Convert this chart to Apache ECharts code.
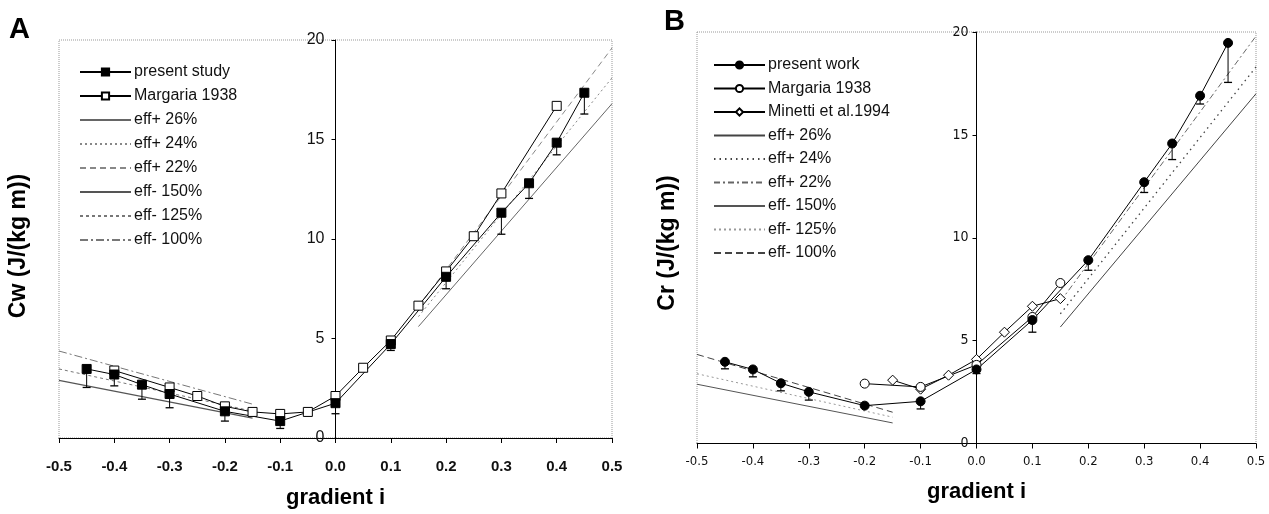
<!DOCTYPE html>
<html><head><meta charset="utf-8">
<script src="https://cdn.jsdelivr.net/npm/echarts@6/dist/echarts.min.js"></script>
<style>html,body{margin:0;padding:0;background:#fff}#c{width:1269px;height:514px}</style>
</head><body><div id="c"></div>
<script>
const NARROW = '"Liberation Sans Narrow","Arial Narrow","DejaVu Sans Condensed",sans-serif';
const SANS = '"Liberation Sans",Arial,sans-serif';

// ---------- Panel A (walking, Cw) ----------
const aPresentX = [-0.45,-0.4,-0.35,-0.3,-0.2,-0.1,0,0.1,0.2,0.3,0.35,0.4,0.45];
const aPresentY = [3.47,3.19,2.68,2.21,1.34,0.85,1.75,4.72,8.1,11.32,12.8,14.84,17.35];
const aPresentLow = [2.54,2.62,1.95,1.52,0.85,0.48,1.22,4.4,7.5,10.24,12.04,14.23,16.28];
const aMargX = [-0.4,-0.3,-0.25,-0.2,-0.15,-0.1,-0.05,0,0.05,0.1,0.15,0.2,0.25,0.3,0.4];
const aMargY = [3.39,2.54,2.11,1.59,1.31,1.21,1.31,2.11,3.53,4.9,6.65,8.37,10.14,12.29,16.69];
const aEffPosX = [0.15,0.5];
const aEff26Y = [5.6,16.8];
const aEff24Y = [6.1,18.1];
const aEff22Y = [6.6,19.6];
const aEffNegX = [-0.5,-0.15];
const aEff150Y = [2.9,1.0];
const aEff125Y = [3.47,1.35];
const aEff100Y = [4.37,1.7];

// ---------- Panel B (running, Cr) ----------
const bPresentX = [-0.45,-0.4,-0.35,-0.3,-0.2,-0.1,0,0.1,0.2,0.3,0.35,0.4,0.45];
const bPresentY = [3.97,3.6,2.93,2.51,1.84,2.05,3.6,6.0,8.91,12.7,14.58,16.9,19.47];
const bPresentLow = [3.63,3.24,2.56,2.11,1.84,1.68,3.4,5.41,8.42,12.2,13.8,16.5,17.55];
const bMargX = [-0.2,-0.1,0,0.1,0.15];
const bMargY = [2.91,2.75,3.82,6.15,7.8];
const bMinX = [-0.15,-0.1,-0.05,0,0.05,0.1,0.15];
const bMinY = [3.08,2.64,3.32,4.09,5.41,6.67,7.04];
const bEffPosX = [0.15,0.5];
const bEff26Y = [5.66,17.0];
const bEff24Y = [6.3,18.3];
const bEff22Y = [6.9,19.8];
const bEffNegX = [-0.5,-0.15];
const bEff150Y = [2.88,1.0];
const bEff125Y = [3.39,1.28];
const bEff100Y = [4.33,1.52];

const xTickFmt = v => (Math.abs(v) < 1e-9 ? 0 : v).toFixed(1);

function pairs(xs, ys){ return xs.map((x,i)=>[x, ys[i]]); }

function dataLine(name, idx, xs, ys, symbol, filled, size){
  return {
    name, type:'line', xAxisIndex:idx, yAxisIndex:idx, data:pairs(xs,ys),
    symbol, symbolSize:size, showSymbol:true, z:5,
    itemStyle:{color: filled ? '#000' : '#fff', borderColor:'#000', borderWidth:1},
    lineStyle:{color:'#000', width:1},
    emphasis:{disabled:true}, animation:false
  };
}
function effLine(name, idx, xs, ys, color, type, width){
  return {
    name, type:'line', xAxisIndex:idx, yAxisIndex:idx, data:pairs(xs,ys),
    symbol:'none', z:2,
    itemStyle:{color:'rgba(0,0,0,0)', borderWidth:0},
    lineStyle:{color, width:width||1, type},
    emphasis:{disabled:true}, animation:false
  };
}
function errBars(idx, xs, ys, lows){
  return {
    type:'custom', xAxisIndex:idx, yAxisIndex:idx, z:3, silent:true, animation:false,
    data: xs.map((x,i)=>[x, ys[i], lows[i]]),
    renderItem:(params, api)=>{
      const t = api.coord([api.value(0), api.value(1)]);
      const b = api.coord([api.value(0), api.value(2)]);
      return {type:'group', children:[
        {type:'line', shape:{x1:t[0], y1:t[1], x2:b[0], y2:b[1]}, style:{stroke:'#000', lineWidth:1}},
        {type:'line', shape:{x1:b[0]-4, y1:b[1], x2:b[0]+4, y2:b[1]}, style:{stroke:'#000', lineWidth:1.3}}
      ]};
    }
  };
}

function xAxisCfg(idx, fs, bold, family, margin, nameGap){
  return {
    gridIndex:idx, type:'value', min:-0.5, max:0.5, interval:0.1,
    axisLine:{onZero:false, lineStyle:{color:'#000', width:1}},
    axisTick:{show:true, length:5, lineStyle:{color:'#000'}},
    axisLabel:{formatter:xTickFmt, fontSize:fs, fontWeight:bold?'bold':'normal', color:'#111', margin, fontFamily:family},
    splitLine:{show:false},
    name:'gradient i', nameLocation:'middle', nameGap,
    nameTextStyle:{fontSize:22, fontWeight:'bold', color:'#000', fontFamily:SANS}
  };
}
function yAxisCfg(idx, fs, family, margin){
  return {
    gridIndex:idx, type:'value', min:0, max:20, interval:5, position:'left',
    axisLine:{show:true, onZero:false, lineStyle:{color:'#000', width:1}},
    axisTick:{show:true, length:4, lineStyle:{color:'#000'}},
    axisLabel:{fontSize:fs, color:'#111', margin, fontFamily:family},
    splitLine:{show:false}
  };
}

const legendA = ['A|present study','A|Margaria 1938','A|eff+ 26%','A|eff+ 24%','A|eff+ 22%','A|eff- 150%','A|eff- 125%','A|eff- 100%'];
const legendB = ['B|present work','B|Margaria 1938','B|Minetti et al.1994','B|eff+ 26%','B|eff+ 24%','B|eff+ 22%','B|eff- 150%','B|eff- 125%','B|eff- 100%'];

const gridA = {left:59, right:1269-612, top:40, bottom:514-445.5};
const gridB = {left:697, right:1269-1256, top:32, bottom:514-443.5};

const chart = echarts.init(document.getElementById('c'), null, {renderer:'canvas'});
chart.setOption({
  animation:false,
  backgroundColor:'#fff',
  grid:[
    Object.assign({show:true, borderColor:'#999', borderWidth:1, borderType:'dotted'}, gridA),
    Object.assign({show:true, borderColor:'#999', borderWidth:1, borderType:'dotted'}, gridB)
  ],
  xAxis:[xAxisCfg(0,15,true,SANS,21,49), xAxisCfg(1,13,false,NARROW,12,37)],
  yAxis:[yAxisCfg(0,16,SANS,11), yAxisCfg(1,14,NARROW,8)],
  legend:[
    {data:legendA, orient:'vertical', left:79, top:64, padding:0, itemWidth:51, itemHeight:9, itemGap:8,
     selectedMode:false, formatter:n=>n.split('|')[1],
     textStyle:{fontSize:16, lineHeight:16, color:'#111', fontFamily:SANS, padding:[0,0,0,-2]}},
    {data:legendB, orient:'vertical', left:713, top:57, padding:0, itemWidth:51, itemHeight:9, itemGap:7.5,
     selectedMode:false, formatter:n=>n.split('|')[1],
     textStyle:{fontSize:16, lineHeight:16, color:'#111', fontFamily:SANS, padding:[0,0,0,-2]}}
  ],
  graphic:[
    {type:'text', left:9, top:15, style:{text:'A', font:'bold 29px "Liberation Sans",Arial,sans-serif', fill:'#000'}},
    {type:'text', left:664, top:7, style:{text:'B', font:'bold 29px "Liberation Sans",Arial,sans-serif', fill:'#000'}},
    {type:'text', x:19, y:246, rotation:Math.PI/2, style:{text:'Cw (J/(kg m))', font:'bold 23px "Liberation Sans",Arial,sans-serif', fill:'#000', align:'center', verticalAlign:'middle'}},
    {type:'text', x:668, y:243, rotation:Math.PI/2, style:{text:'Cr (J/(kg m))', font:'bold 23px "Liberation Sans",Arial,sans-serif', fill:'#000', align:'center', verticalAlign:'middle'}}
  ],
  series:[
    effLine('A|eff+ 26%',0,aEffPosX,aEff26Y,'#666','solid',1),
    effLine('A|eff+ 24%',0,aEffPosX,aEff24Y,'#888',[2,3],1),
    effLine('A|eff+ 22%',0,aEffPosX,aEff22Y,'#888',[6,4],1),
    effLine('A|eff- 150%',0,aEffNegX,aEff150Y,'#555','solid',1.2),
    effLine('A|eff- 125%',0,aEffNegX,aEff125Y,'#777',[3,3],1),
    effLine('A|eff- 100%',0,aEffNegX,aEff100Y,'#777',[8,3,2,3],1),
    errBars(0,aPresentX,aPresentY,aPresentLow),
    dataLine('A|Margaria 1938',0,aMargX,aMargY,'rect',false,9),
    dataLine('A|present study',0,aPresentX,aPresentY,'rect',true,9),

    effLine('B|eff+ 26%',1,bEffPosX,bEff26Y,'#444','solid',1),
    effLine('B|eff+ 24%',1,bEffPosX,bEff24Y,'#444',[1.5,4],1.3),
    effLine('B|eff+ 22%',1,bEffPosX,bEff22Y,'#666',[6,3,2,3],1),
    effLine('B|eff- 150%',1,bEffNegX,bEff150Y,'#555','solid',1),
    effLine('B|eff- 125%',1,bEffNegX,bEff125Y,'#999',[2,3],1),
    effLine('B|eff- 100%',1,bEffNegX,bEff100Y,'#444',[7,4],1),
    errBars(1,bPresentX,bPresentY,bPresentLow),
    dataLine('B|Minetti et al.1994',1,bMinX,bMinY,'diamond',false,10),
    dataLine('B|Margaria 1938',1,bMargX,bMargY,'circle',false,9),
    dataLine('B|present work',1,bPresentX,bPresentY,'circle',true,9)
  ]
});
// place each y axis at gradient 0, located through the x axis scale
const zeroA = chart.convertToPixel({xAxisIndex:0}, 0);
const zeroB = chart.convertToPixel({xAxisIndex:1}, 0);
chart.setOption({yAxis:[{offset: -(zeroA - gridA.left)}, {offset: -(zeroB - gridB.left)}]});
</script></body></html>
